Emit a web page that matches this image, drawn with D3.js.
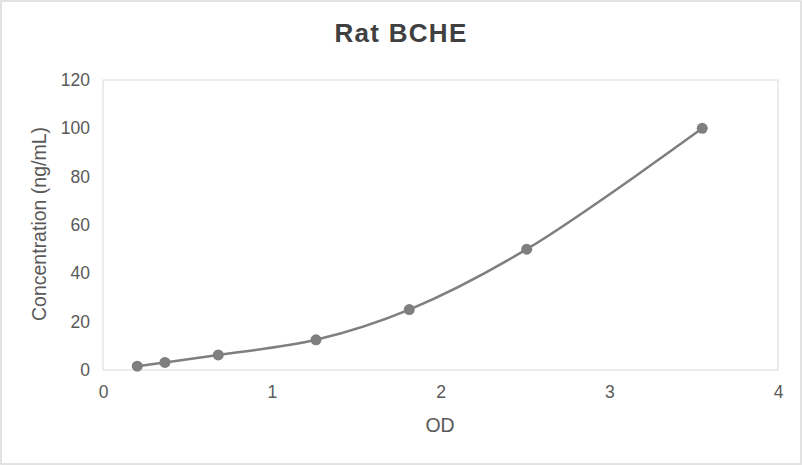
<!DOCTYPE html>
<html><head><meta charset="utf-8">
<script src="https://cdn.jsdelivr.net/npm/d3@7"></script>
<style>body{margin:0;background:#fff;} text{font-family:"Liberation Sans",Arial,sans-serif;}</style>
</head><body>
<svg id="c" width="802" height="465"></svg>
<script>
const title = "Rat BCHE";
const xLabel = "OD";
const yLabel = "Concentration (ng/mL)";
const od = [0.203, 0.367, 0.683, 1.262, 1.815, 2.511, 3.551];
const conc = [1.5625, 3.125, 6.25, 12.5, 25, 50, 100];
const xTicks = [0, 1, 2, 3, 4];
const yTicks = [0, 20, 40, 60, 80, 100, 120];

const svg = d3.select("#c");
svg.append("rect").attr("x",1).attr("y",1).attr("width",800).attr("height",463)
  .attr("fill","#fff").attr("stroke","#d9d9d9").attr("stroke-width",1.5);

const L=103, R=778, T=80, B=370;
const x = d3.scaleLinear().domain([0,4]).range([L,R]);
const y = d3.scaleLinear().domain([0,120]).range([B,T]);

svg.append("rect").attr("x",L).attr("y",T).attr("width",R-L).attr("height",B-T)
  .attr("fill","none").attr("stroke","#d9d9d9").attr("stroke-width",1);

const xa = svg.append("g").attr("transform",`translate(0,${B})`)
  .call(d3.axisBottom(x).tickValues(xTicks).tickSize(0).tickPadding(16).tickFormat(d3.format("d")));
xa.select(".domain").remove();
xa.selectAll("text").attr("fill","#595959").attr("font-size",17.5);

const ya = svg.append("g").attr("transform",`translate(${L},0)`)
  .call(d3.axisLeft(y).tickValues(yTicks).tickSize(0).tickPadding(13).tickFormat(d3.format("d")));
ya.select(".domain").remove();
ya.selectAll("text").attr("fill","#595959").attr("font-size",17.5);

svg.append("text").attr("x",401).attr("y",42).attr("text-anchor","middle")
  .attr("font-size",26).attr("letter-spacing","1.3px").attr("font-weight","bold").attr("fill","#404040").text(title);
svg.append("text").attr("x",440).attr("y",432).attr("text-anchor","middle")
  .attr("font-size",19.5).attr("fill","#595959").text(xLabel);
svg.append("text").attr("transform","translate(46,224) rotate(-90)").attr("text-anchor","middle")
  .attr("font-size",19.5).attr("fill","#595959").text(yLabel);

const pts = od.map((d,i)=>[d,conc[i]]);
const line = d3.line().x(d=>x(d[0])).y(d=>y(d[1])).curve(d3.curveCatmullRom.alpha(0.5));
svg.append("path").attr("d",line(pts)).attr("fill","none").attr("stroke","#7f7f7f").attr("stroke-width",2.5);
svg.selectAll("circle.m").data(pts).enter().append("circle").attr("class","m")
  .attr("cx",d=>x(d[0])).attr("cy",d=>y(d[1])).attr("r",5.5).attr("fill","#7f7f7f");
</script>
</body></html>
